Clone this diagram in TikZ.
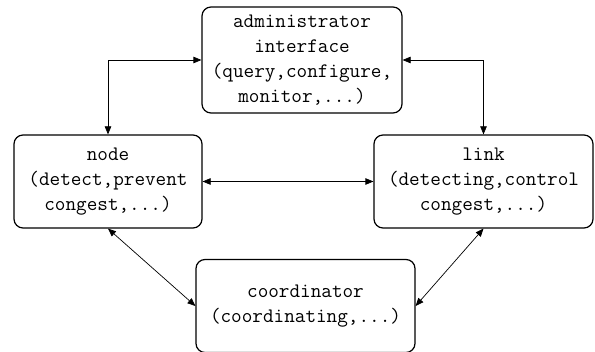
\documentclass[tikz,border=0pt]{standalone}
\usepackage{fontspec}
\usetikzlibrary{arrows.meta}
\begin{document}
\begin{tikzpicture}[x=1pt,y=-1pt,
  box/.style={draw, line width=1.2pt, rounded corners=9pt, align=center,
    inner sep=0pt, font=\ttfamily\fontsize{20.6}{25}\selectfont},
  link2/.style={line width=0.7pt, {Triangle[length=8pt,width=6.5pt]}-{Triangle[length=8pt,width=6.5pt]}}]
\useasboundingbox (0,0) rectangle (595,352);
\node[box, minimum width=200pt, minimum height=106pt] (admin) at (302,60)
  {administrator\\interface\\(query,configure,\\monitor,...)};
\node[box, minimum width=188pt, minimum height=93pt] (node) at (108,181.5)
  {node\\(detect,prevent\\congest,...)};
\node[box, minimum width=219pt, minimum height=93pt] (link) at (483.5,181.5)
  {link\\(detecting,control\\congest,...)};
\node[box, minimum width=219pt, minimum height=93pt] (coord) at (305.5,306)
  {coordinator\\(coordinating,...)};
\draw[link2] (admin.west) -| (node.north);
\draw[link2] (admin.east) -| (link.north);
\draw[link2] (node.east) -- (link.west);
\draw[link2] (node.south) -- (coord.west);
\draw[link2] (link.south) -- (coord.east);
\end{tikzpicture}
\end{document}
